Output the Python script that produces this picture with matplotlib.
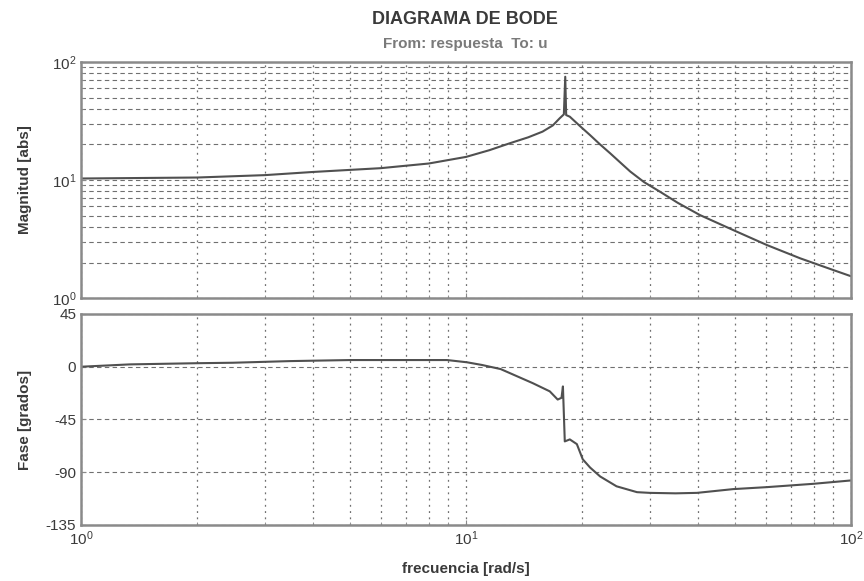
import matplotlib
matplotlib.use('Agg')

import matplotlib.pyplot as plt
from matplotlib.ticker import LogLocator, NullFormatter, FixedLocator
import numpy as np

plt.rcParams['font.family'] = ['Liberation Sans Narrow', 'Liberation Sans', 'DejaVu Sans']
plt.rcParams['mathtext.fontset'] = 'custom'
plt.rcParams['mathtext.rm'] = 'Liberation Sans'
plt.rcParams['axes.unicode_minus'] = False

# magnitude curve (rad/s, abs)
mag_w = [1.0, 2.0, 3.0, 4.0, 6.0, 8.0, 10.0, 11.5, 13.0, 14.5, 15.8, 16.8, 17.5,
         17.95, 18.1, 18.2, 18.6, 19.8, 21.0, 22.3, 23.7, 25.2, 26.7, 29.0, 31.9,
         35.5, 40.5, 49.4, 60.5, 73.8, 89.8, 100.0]
mag_abs = [10.3, 10.5, 11.0, 11.7, 12.6, 13.8, 15.7, 17.9, 20.5, 23.0, 25.7, 29.0,
           33.3, 36.0, 75.0, 35.5, 34.4, 28.5, 24.0, 20.0, 16.8, 14.0, 11.8, 9.6,
           7.96, 6.4, 5.05, 3.77, 2.81, 2.17, 1.73, 1.53]

# phase curve (rad/s, degrees)
ph_w = [1.0, 1.34, 2.0, 2.48, 3.49, 5.0, 8.93, 10.05, 11.0, 12.3, 14.9, 16.5, 17.3,
        17.7, 17.85, 18.05, 18.6, 19.4, 20.1, 21.0, 22.3, 24.6, 27.8, 30.0, 35.0,
        39.8, 49.4, 60.5, 79.6, 100.0]
ph_deg = [0.0, 2.0, 3.0, 3.4, 4.8, 5.7, 5.7, 3.8, 1.5, -2.0, -14.0, -21.0, -28.0,
          -26.5, -16.8, -63.7, -62.0, -66.0, -79.0, -86.0, -93.6, -102.0, -107.0,
          -107.6, -108.0, -107.6, -104.4, -102.7, -99.9, -97.0]

phase_ticks = [45, 0, -45, -90, -135]

line_col = '#505050'
frame_col = '#8a8a8a'
text_col = '#3a3a3a'
grid_col = '#707070'

fig = plt.figure(figsize=(8.64, 5.81), dpi=100)
ax1 = fig.add_axes([0.0938, 0.487, 0.8912, 0.4063])
ax2 = fig.add_axes([0.0938, 0.0964, 0.8912, 0.3632])

for ax in (ax1, ax2):
    ax.set_xscale('log')
    ax.set_xlim(1, 100)
    ax.xaxis.set_major_locator(LogLocator(base=10))
    ax.xaxis.set_minor_locator(LogLocator(base=10, subs=np.arange(2, 10)))
    ax.xaxis.set_minor_formatter(NullFormatter())
    for s in ax.spines.values():
        s.set_color(frame_col)
        s.set_linewidth(1.8)
    ax.tick_params(which='both', direction='in', colors=frame_col,
                   labelcolor=text_col, labelsize=11)
    ax.grid(True, which='both', axis='x', linestyle=(0, (1.5, 3.5)),
            color=grid_col, linewidth=0.9)

ax1.set_yscale('log')
ax1.set_ylim(1, 100)
ax1.yaxis.set_minor_locator(LogLocator(base=10, subs=np.arange(2, 10)))
ax1.yaxis.set_minor_formatter(NullFormatter())
ax1.grid(True, which='both', axis='y', linestyle=(0, (4, 3)),
         color=grid_col, linewidth=0.8)
ax1.tick_params(axis='x', labelbottom=False)
ax1.plot(mag_w, mag_abs, color=line_col, linewidth=1.5)
ax1.set_ylabel('Magnitud [abs]', fontsize=11, fontweight='bold', color=text_col,
               labelpad=14)

ax2.set_ylim(-135, 45)
ax2.yaxis.set_major_locator(FixedLocator(phase_ticks))
ax2.grid(True, which='major', axis='y', linestyle=(0, (4, 3)),
         color=grid_col, linewidth=0.8)
ax2.plot(ph_w, ph_deg, color=line_col, linewidth=1.5)
ax2.set_ylabel('Fase [grados]', fontsize=11, fontweight='bold', color=text_col,
               labelpad=10)
ax2.set_xlabel('frecuencia [rad/s]', fontsize=11, fontweight='bold', color=text_col,
               labelpad=10)

fig.text(0.5385, 0.966, 'DIAGRAMA DE BODE', ha='center', va='center',
         fontsize=13, fontweight='bold', color=text_col)
fig.text(0.5385, 0.925, 'From: respuesta  To: u', ha='center', va='center',
         fontsize=11, fontweight='bold', color='#7a7a7a')

fig.savefig('out.png', dpi=100)
